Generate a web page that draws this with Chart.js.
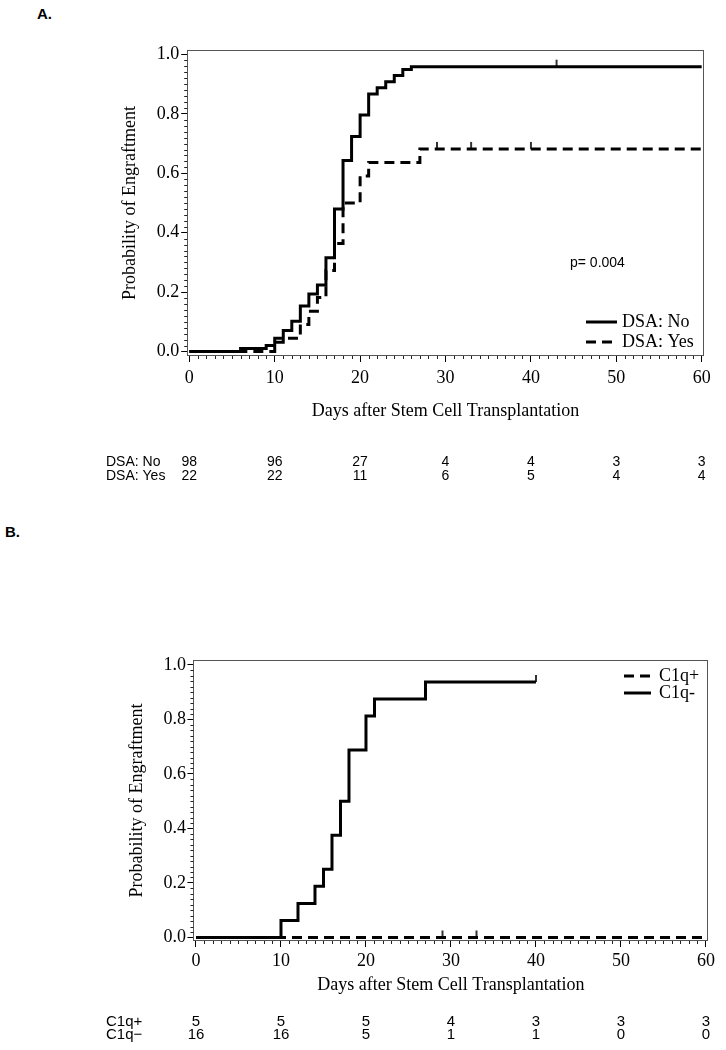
<!DOCTYPE html>
<html>
<head>
<meta charset="utf-8">
<script src="https://cdn.jsdelivr.net/npm/chart.js@4.4.0/dist/chart.umd.min.js"></script>
<style>
  body { margin: 0; background: #fff; }
  #page { position: relative; width: 726px; height: 1050px; overflow: hidden; background: #fff; }
  canvas { position: absolute; left: 0; }
  .panel { position: absolute; font: bold 15px "Liberation Sans", Arial, sans-serif; color: #000; }
  .pval { position: absolute; font: 14px "Liberation Sans", Arial, sans-serif; color: #000; white-space: nowrap; }
</style>
</head>
<body>
<div id="page">
  <div class="panel" style="left:37px; top:5px;">A.</div>
  <canvas id="chartA" width="726" height="500" style="top:0"></canvas>
  <div class="pval" style="left:570px; top:254px;">p= 0.004</div>
  <div class="panel" style="left:5px; top:523px;">B.</div>
  <canvas id="chartB" width="726" height="550" style="top:500px"></canvas>
</div>
<script>
// Panel A: engraftment by DSA status
const daysNo  = [0, 6, 9, 10, 11, 12, 13, 14, 15, 16, 17, 18, 19, 20, 21, 22, 23, 24, 25, 26, 60];
const probNo  = [0, 0.010, 0.020, 0.031, 0.071, 0.102, 0.153, 0.194, 0.224, 0.316, 0.480, 0.643, 0.724, 0.796, 0.867, 0.888, 0.908, 0.929, 0.949, 0.959, 0.959];
const daysYes = [0, 10, 13, 14, 15, 16, 17, 18, 20, 21, 27, 60];
const probYes = [0, 0.045, 0.091, 0.136, 0.182, 0.273, 0.364, 0.500, 0.591, 0.636, 0.682, 0.682];
const censorNoDays  = [43];
const censorNoProb  = [0.959];
const censorYesDays = [29, 33, 40];
const censorYesProb = [0.682, 0.682, 0.682];

// Panel B: engraftment by C1q status
const daysC1qPos = [0, 60];
const probC1qPos = [0, 0];
const daysC1qNeg = [0, 10, 12, 14, 15, 16, 17, 18, 20, 21, 27, 40];
const probC1qNeg = [0, 0.0625, 0.125, 0.1875, 0.25, 0.375, 0.5, 0.6875, 0.8125, 0.875, 0.9375, 0.9375];
const censorPosDays = [29, 33];
const censorPosProb = [0, 0];
const censorNegDays = [40];
const censorNegProb = [0.9375];

// numbers at risk
const riskDays = [0, 10, 20, 30, 40, 50, 60];
const riskNo   = [98, 96, 27, 4, 4, 3, 3];
const riskYes  = [22, 22, 11, 6, 5, 4, 4];
const riskPos  = [5, 5, 5, 4, 3, 3, 3];
const riskNeg  = [16, 16, 5, 1, 1, 0, 0];

const xTicks = [0, 10, 20, 30, 40, 50, 60];
const yTicks = [0, 0.2, 0.4, 0.6, 0.8, 1.0];

const SERIF = '"Liberation Serif", "Times New Roman", serif';
const SANS = '"Liberation Sans", Arial, sans-serif';

function toPoints(xs, ys) {
    return xs.map((x, i) => ({ x: x, y: ys[i] }));
}

// small upward tick used as censor mark
const censorMark = document.createElement('canvas');
censorMark.width = 4;
censorMark.height = 16;
(function () {
    const c = censorMark.getContext('2d');
    c.strokeStyle = '#000';
    c.lineWidth = 1.6;
    c.beginPath();
    c.moveTo(2, 1);
    c.lineTo(2, 8);
    c.stroke();
})();

const framePlugin = {
    id: 'frame',
    afterDraw(chart, args, opts) {
        const { ctx, chartArea: a, scales: { x, y } } = chart;
        ctx.save();
        ctx.strokeStyle = opts.color;
        ctx.lineWidth = 1;
        ctx.strokeRect(Math.round(a.left) + 0.5, Math.round(a.top) + 0.5,
            Math.round(a.right - a.left) - 1, Math.round(a.bottom - a.top) - 1);
        // minor ticks
        ctx.strokeStyle = '#222';
        ctx.beginPath();
        for (let d = xTicks[0]; d <= xTicks[xTicks.length - 1]; d++) {
            if (d % 10 === 0) continue;
            const px = Math.round(x.getPixelForValue(d)) + 0.5;
            ctx.moveTo(px, a.bottom);
            ctx.lineTo(px, a.bottom + 3);
        }
        for (let k = 0; k <= 50; k++) {
            if (k % 10 === 0) continue;
            const py = Math.round(y.getPixelForValue(k / 50)) + 0.5;
            ctx.moveTo(a.left - 3, py);
            ctx.lineTo(a.left, py);
        }
        ctx.stroke();
        ctx.restore();
    }
};

const legendPlugin = {
    id: 'kmLegend',
    afterDraw(chart, args, opts) {
        const ctx = chart.ctx;
        ctx.save();
        ctx.font = opts.font;
        ctx.fillStyle = '#000';
        ctx.textBaseline = 'middle';
        ctx.textAlign = 'left';
        opts.items.forEach((idx, i) => {
            const ds = chart.data.datasets[idx];
            const y = opts.y + i * opts.rowGap;
            ctx.beginPath();
            ctx.strokeStyle = ds.borderColor;
            ctx.lineWidth = ds.borderWidth;
            ctx.setLineDash(ds.borderDash || []);
            ctx.moveTo(opts.x, y);
            ctx.lineTo(opts.x + opts.sample, y);
            ctx.stroke();
            ctx.setLineDash([]);
            ctx.fillText(ds.label, opts.x + opts.sample + opts.textGap, y);
        });
        ctx.restore();
    }
};

const riskPlugin = {
    id: 'riskTable',
    afterDraw(chart, args, opts) {
        const ctx = chart.ctx;
        const xs = chart.scales.x;
        ctx.save();
        ctx.font = opts.font;
        ctx.fillStyle = '#000';
        ctx.textBaseline = 'middle';
        opts.rows.forEach((row, r) => {
            const y = opts.y + r * opts.rowGap;
            ctx.textAlign = 'left';
            ctx.fillText(row.label, opts.labelX, y);
            ctx.textAlign = 'center';
            row.values.forEach((v, i) => {
                ctx.fillText(String(v), xs.getPixelForValue(riskDays[i]), y);
            });
        });
        ctx.restore();
    }
};

function kmLine(label, xs, ys, dash, order) {
    return {
        label: label,
        data: toPoints(xs, ys),
        borderColor: '#000',
        borderWidth: 3,
        borderDash: dash,
        stepped: true,
        pointRadius: 0,
        fill: false,
        order: order
    };
}

function censorSet(xs, ys) {
    return {
        label: 'censored',
        data: toPoints(xs, ys),
        showLine: false,
        pointStyle: censorMark,
        pointRadius: 3,
        order: -1
    };
}

function makeChart(id, p) {
    return new Chart(document.getElementById(id), {
        type: 'line',
        data: { datasets: p.datasets },
        options: {
            responsive: false,
            animation: false,
            devicePixelRatio: 1,
            layout: { padding: { top: p.top, right: p.right, left: 0, bottom: 0 } },
            plugins: {
                legend: { display: false },
                tooltip: { enabled: false },
                frame: { color: '#555' },
                kmLegend: p.legend,
                riskTable: p.risk
            },
            scales: {
                x: {
                    type: 'linear',
                    min: p.xMin, max: p.xMax,
                    afterBuildTicks: s => { s.ticks = xTicks.map(v => ({ value: v })); },
                    afterFit: s => { s.height = p.xHeight; },
                    border: { display: false },
                    grid: { drawOnChartArea: false, drawTicks: true, tickLength: 6, color: '#000' },
                    ticks: { autoSkip: false, maxRotation: 0, padding: p.xPad, color: '#000',
                             font: { family: SERIF, size: 18 }, callback: v => String(v) },
                    title: { display: true, text: 'Days after Stem Cell Transplantation', color: '#000',
                             font: { family: SERIF, size: 18 }, padding: { top: 0, bottom: p.xTitlePad } }
                },
                y: {
                    min: p.yMin, max: p.yMax,
                    afterBuildTicks: s => { s.ticks = yTicks.map(v => ({ value: v })); },
                    afterFit: s => { s.width = p.yWidth; },
                    border: { display: false },
                    grid: { drawOnChartArea: false, drawTicks: true, tickLength: 6, color: '#000' },
                    ticks: { padding: p.yPad, color: '#000', font: { family: SERIF, size: 18 },
                             callback: v => Number(v).toFixed(1) },
                    title: { display: true, text: 'Probability of Engraftment', color: '#000',
                             font: { family: SERIF, size: 18 }, padding: { top: p.yTitlePad, bottom: 0 } }
                }
            }
        },
        plugins: [framePlugin, legendPlugin, riskPlugin]
    });
}

makeChart('chartA', {
    datasets: [
        kmLine('DSA: No', daysNo, probNo, [], 0),
        kmLine('DSA: Yes', daysYes, probYes, [10, 6], 1),
        censorSet(censorNoDays, censorNoProb),
        censorSet(censorYesDays, censorYesProb)
    ],
    top: 50, right: 22.2, yWidth: 187.2, xHeight: 144,
    xMin: -0.25, xMax: 60.25, yMin: -0.015, yMax: 1.015,
    xPad: 5, yPad: 2, xTitlePad: 78, yTitlePad: 119,
    legend: { items: [0, 1], x: 586, y: 322, rowGap: 20, sample: 31, textGap: 5, font: '18px ' + SERIF },
    risk: {
        font: '14px ' + SANS, labelX: 106, y: 462, rowGap: 14.3,
        rows: [{ label: 'DSA: No', values: riskNo }, { label: 'DSA: Yes', values: riskYes }]
    }
});

makeChart('chartB', {
    datasets: [
        kmLine('C1q+', daysC1qPos, probC1qPos, [10, 6], 1),
        kmLine('C1q-', daysC1qNeg, probC1qNeg, [], 0),
        censorSet(censorPosDays, censorPosProb),
        censorSet(censorNegDays, censorNegProb)
    ],
    top: 160, right: 17.5, yWidth: 193.45, xHeight: 109,
    xMin: -0.3, xMax: 60.3, yMin: -0.013, yMax: 1.018,
    xPad: 3, yPad: 1.5, xTitlePad: 54, yTitlePad: 126,
    legend: { items: [0, 1], x: 624, y: 176, rowGap: 17, sample: 27, textGap: 8, font: '18px ' + SERIF },
    risk: {
        font: '15px ' + SANS, labelX: 106, y: 522, rowGap: 12.5,
        rows: [{ label: 'C1q+', values: riskPos }, { label: 'C1q\u2212', values: riskNeg }]
    }
});
</script>
</body>
</html>
